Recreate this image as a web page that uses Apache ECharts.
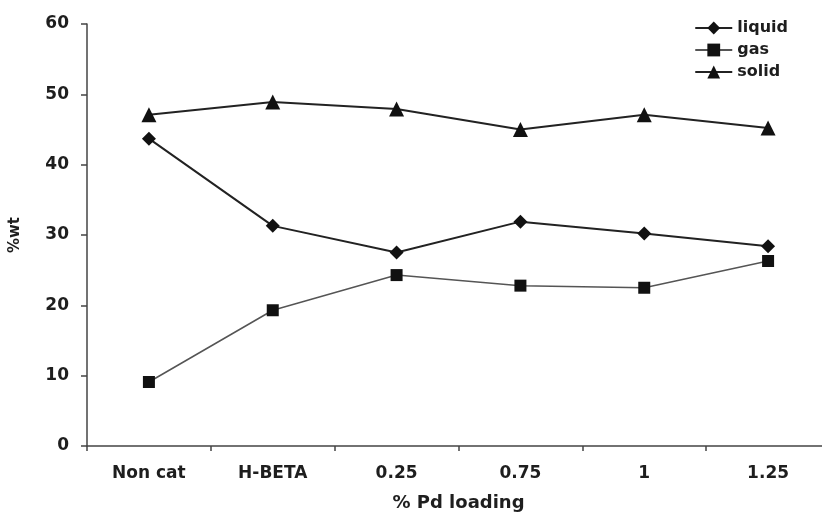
<!DOCTYPE html>
<html>
<head>
<meta charset="utf-8">
<script src="https://cdn.jsdelivr.net/npm/echarts@6/dist/echarts.min.js"></script>
<style>
  html, body { margin: 0; padding: 0; background: #fff; overflow: hidden; }
  #chart { width: 822px; height: 513px; }
</style>
</head>
<body>
<div id="chart"></div>
<script>
// Product distribution by catalyst loading
const categories = ['Non cat', 'H-BETA', '0.25', '0.75', '1', '1.25'];
const liquid = [43.7, 31.3, 27.5, 31.9, 30.2, 28.4];
const gas = [9.1, 19.3, 24.3, 22.8, 22.5, 26.3];
const solid = [47.1, 48.9, 47.9, 45.0, 47.1, 45.2];

const font = '"DejaVu Sans", Verdana, sans-serif';
const ink = '#1e1e1e';
const chart = echarts.init(document.getElementById('chart'));

function series(name, data, symbol, size, color, width) {
  return {
    name, type: 'line', data, symbol, symbolSize: size,
    showAllSymbol: true,
    lineStyle: { color, width },
    itemStyle: { color: '#111', borderWidth: 0 },
    emphasis: { disabled: true },
    animation: false
  };
}

chart.setOption({
  backgroundColor: '#fff',
  animation: false,
  // the plot area runs a little past the right edge of the canvas
  grid: { left: 87, right: -8, top: 24, bottom: 67, outerBoundsMode: 'none', containLabel: false },
  legend: {
    orient: 'vertical',
    right: 29,
    top: 15,
    itemGap: 6,
    itemWidth: 37,
    itemHeight: 16,
    textStyle: { fontFamily: font, fontSize: 16, fontWeight: 'bold', color: ink, padding: [0, 0, 0, 0] },
    data: ['liquid', 'gas', 'solid']
  },
  xAxis: {
    type: 'category',
    data: categories,
    boundaryGap: true,
    name: '% Pd loading',
    nameLocation: 'middle',
    nameGap: 48,
    nameTextStyle: { fontFamily: font, fontSize: 18, fontWeight: 'bold', color: ink },
    axisLine: { lineStyle: { color: '#444', width: 1.5 } },
    axisTick: { show: true, inside: false, length: 5, lineStyle: { color: '#444', width: 1.5 } },
    axisLabel: { fontFamily: font, fontSize: 17, fontWeight: 'bold', color: ink, margin: 19 },
    splitLine: { show: false }
  },
  yAxis: {
    type: 'value',
    min: 0,
    max: 60,
    interval: 10,
    name: '%wt',
    nameLocation: 'middle',
    nameGap: 64,
    nameRotate: 90,
    nameTextStyle: { fontFamily: font, fontSize: 15, fontWeight: 'bold', color: ink },
    axisLine: { show: true, lineStyle: { color: '#444', width: 1.5 } },
    axisTick: { show: true, inside: false, length: 6, lineStyle: { color: '#444', width: 1.5 } },
    axisLabel: { fontFamily: font, fontSize: 17, fontWeight: 'bold', color: ink, margin: 18 },
    splitLine: { show: false }
  },
  series: [
    series('liquid', liquid, 'diamond', 14, '#222', 2),
    series('gas', gas, 'rect', 12, '#555', 1.5),
    series('solid', solid, 'triangle', 15, '#222', 2)
  ]
});
</script>
</body>
</html>
